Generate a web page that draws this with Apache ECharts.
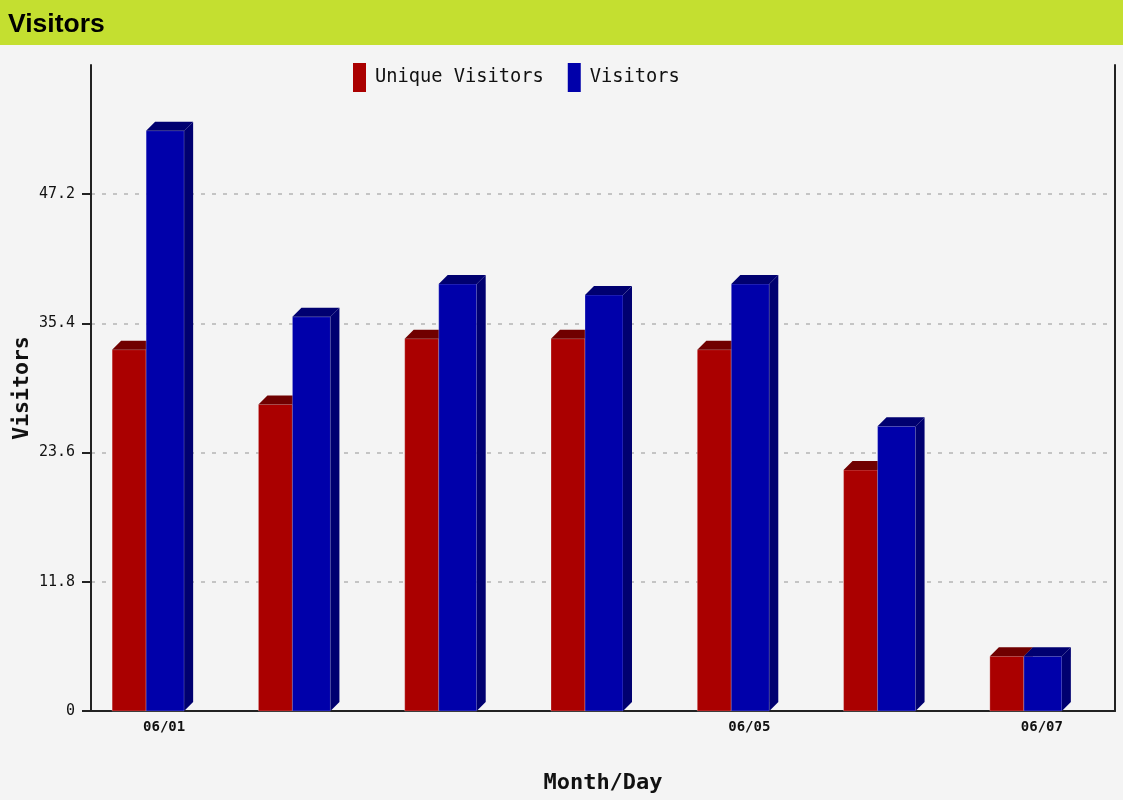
<!DOCTYPE html>
<html>
<head>
<meta charset="utf-8">
<script src="https://cdn.jsdelivr.net/npm/echarts@6/dist/echarts.min.js"></script>
<style>
    html, body { margin: 0; padding: 0; background: #f4f4f4; }
    #barChart { width: 1123px; height: 800px; }
</style>
</head>
<body>
<div id="barChart"></div>
<script>
// data
const days = ['06/01', '06/02', '06/03', '06/04', '06/05', '06/06', '06/07'];
const uniqueVisitors = [33, 28, 34, 34, 33, 22, 5];
const visitors = [53, 36, 39, 38, 39, 26, 5];
const shownDays = [0, 4, 6]; // only these get a label under the axis

const yMax = 59;
const yStep = 11.8;

const monoFont = '"DejaVu Sans Mono", monospace';

// 3d-looking bar: front face + top + side, placed from the category center
function bar3d(offset, width, front, dark) {
    return function (params, api) {
        const depth = 9;
        const top = api.coord([api.value(0), api.value(1)]);
        const base = api.coord([api.value(0), 0]);
        const x = top[0] + offset;
        const ty = top[1];
        const by = base[1];
        return {
            type: 'group',
            children: [
                {
                    type: 'rect',
                    shape: { x: x, y: ty, width: width, height: by - ty },
                    style: { fill: front, stroke: 'rgba(255,255,255,0.25)', lineWidth: 1 }
                },
                {
                    type: 'polygon',
                    shape: { points: [[x, ty], [x + depth, ty - depth], [x + width + depth, ty - depth], [x + width, ty]] },
                    style: { fill: dark }
                },
                {
                    type: 'polygon',
                    shape: { points: [[x + width, ty], [x + width + depth, ty - depth], [x + width + depth, by - depth], [x + width, by]] },
                    style: { fill: dark }
                }
            ]
        };
    };
}

let chartDom = document.getElementById('barChart');
let myChart = echarts.init(chartDom);
let option;

option = {
    backgroundColor: '#f4f4f4',
    animation: false,
    graphic: [
        {
            type: 'rect',
            left: 0,
            top: 0,
            z: -1,
            shape: { width: 1123, height: 45 },
            style: { fill: '#c4df30' }
        }
    ],
    title: {
        text: 'Visitors',
        left: 3,
        top: 6,
        textStyle: {
            fontFamily: '"Liberation Sans", Arial, sans-serif',
            fontSize: 26.5,
            fontWeight: 'bold',
            color: '#000'
        }
    },
    legend: {
        left: 348,
        top: 58,
        itemWidth: 13,
        itemHeight: 29,
        itemGap: 24,
        icon: 'rect',
        textStyle: {
            fontFamily: monoFont,
            fontSize: 18.7,
            color: '#111',
            padding: [0, 0, 4, 4]
        },
        data: ['Unique Visitors', 'Visitors']
    },
    grid: {
        left: 91,
        right: 8,
        top: 65,
        bottom: 89,
        outerBoundsMode: 'none'
    },
    xAxis: {
        type: 'category',
        data: days,
        name: 'Month/Day',
        nameLocation: 'middle',
        nameGap: 61,
        nameMoveOverlap: false,
        nameTextStyle: {
            fontFamily: monoFont,
            fontSize: 22,
            fontWeight: 'bold',
            color: '#111'
        },
        axisLine: { lineStyle: { color: '#222', width: 2 } },
        axisTick: { show: false },
        axisLabel: {
            interval: (i) => shownDays.includes(i),
            margin: 9,
            fontFamily: monoFont,
            fontSize: 14,
            fontWeight: 'bold',
            color: '#111'
        }
    },
    yAxis: [
        {
            type: 'value',
            min: 0,
            max: yMax,
            interval: yStep,
            name: 'Visitors',
            nameLocation: 'middle',
            nameGap: 58,
            nameRotate: 90,
            nameMoveOverlap: false,
            nameTextStyle: {
                fontFamily: monoFont,
                fontSize: 21.5,
                fontWeight: 'bold',
                color: '#111'
            },
            axisLine: { show: true, lineStyle: { color: '#222', width: 2 } },
            axisTick: { show: true, length: 9, lineStyle: { color: '#222', width: 2 } },
            axisLabel: {
                showMaxLabel: false,
                margin: 16,
                fontFamily: monoFont,
                fontSize: 15,
                color: '#111',
                formatter: (v) => (v === 0 ? '0' : v.toFixed(1))
            },
            splitLine: {
                showMinLine: false,
                showMaxLine: false,
                lineStyle: { color: '#c4c4c4', type: [4, 7], width: 2 }
            }
        },
        {
            type: 'value',
            min: 0,
            max: yMax,
            interval: yStep,
            position: 'right',
            axisLine: { show: true, lineStyle: { color: '#222', width: 2 } },
            axisTick: { show: false },
            axisLabel: { show: false },
            splitLine: { show: false }
        }
    ],
    series: [
        {
            name: 'Unique Visitors',
            type: 'custom',
            color: '#aa0000',
            renderItem: bar3d(-52, 34, '#aa0000', '#700000'),
            encode: { x: 0, y: 1 },
            data: uniqueVisitors.map((v, i) => [i, v])
        },
        {
            name: 'Visitors',
            type: 'custom',
            color: '#0000aa',
            renderItem: bar3d(-18, 38, '#0000aa', '#000070'),
            encode: { x: 0, y: 1 },
            data: visitors.map((v, i) => [i, v])
        }
    ]
};

option && myChart.setOption(option);
</script>
</body>
</html>
